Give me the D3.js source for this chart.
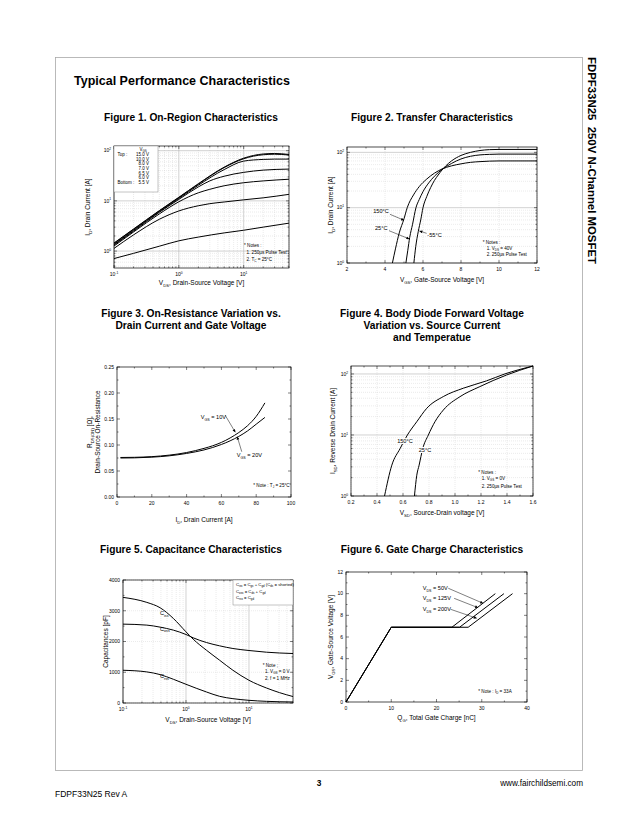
<!DOCTYPE html>
<html><head><meta charset="utf-8">
<script src="https://cdn.jsdelivr.net/npm/d3@7"></script>
<style>
html,body{margin:0;padding:0;background:#fff;}
svg{display:block;font-family:"Liberation Sans",Arial,Helvetica,sans-serif;}
</style></head><body>
<svg id="page" width="638" height="826"></svg>
<script>
// ================= DATA =================
// Figure 1 : On-Region Characteristics  [VDS (V), ID (A)]
const fig1Labels = ['15.0 V','10.0 V','8.0 V','7.0 V','6.5 V','6.0 V','5.5 V'];
const fig1_15V = [[0.1,1.45],[0.2,2.75],[0.5,6.4],[1,11.8],[2,22],[5,47],[10,71],[20,86],[30,88],[50,84]];
const fig1_10V = [[0.1,1.42],[0.2,2.7],[0.5,6.3],[1,11.6],[2,21.5],[5,46],[10,69],[20,83],[30,85],[50,82]];
const fig1_8V  = [[0.1,1.36],[0.2,2.6],[0.5,6.1],[1,11.2],[2,20.5],[5,42],[10,62],[20,67],[30,68],[50,68]];
const fig1_7V  = [[0.1,1.32],[0.2,2.5],[0.5,5.9],[1,10.7],[2,19],[3,25],[5,31],[10,37],[20,41],[50,43]];
const fig1_65V = [[0.1,1.26],[0.2,2.4],[0.5,5.5],[1,9.6],[2,14.5],[3,17],[5,20],[10,23],[20,25],[50,27]];
const fig1_6V  = [[0.1,1.13],[0.2,2.1],[0.5,4.3],[1,6.3],[2,8],[3,8.8],[5,9.5],[10,10.5],[20,11.5],[50,13.5]];
const fig1_55V = [[0.1,0.71],[0.2,0.9],[0.5,1.25],[1,1.6],[2,1.9],[5,2.3],[10,2.6],[20,3.0],[50,3.6]];
const fig1XTicks = [0.1,1,10];
const fig1XTickLabels = ['10^{-1}','10^{0}','10^{1}'];
const fig1YTicks = [1,10,100];
const fig1YTickLabels = ['10^{0}','10^{1}','10^{2}'];

// Figure 2 : Transfer Characteristics [VGS (V), ID (A)]
const fig2_150C = [[4.39,1],[4.55,1.8],[4.75,3.5],[5.0,6.3],[5.17,10],[5.5,17],[5.8,24],[6.2,33],[6.6,42],[7.0,50],[7.5,57],[8,62],[8.5,66],[9,68],[10,70],[12,70]];
const fig2_25C  = [[5.1,1],[5.2,1.7],[5.3,2.9],[5.45,5],[5.63,10],[5.8,14],[6.0,19.5],[6.3,28],[6.6,37],[7.0,49],[7.5,63],[8,76],[8.5,85],[9,90],[9.5,92],[10,93],[12,93]];
const fig2_m55C = [[5.52,1],[5.62,2],[5.75,3.7],[5.88,6],[6.0,10],[6.2,16],[6.4,23],[6.6,31],[6.8,39],[7.0,48],[7.2,57],[7.5,70],[8,88],[8.5,100],[9,108],[9.5,112],[10,113],[12,113]];
const fig2XTicks = [2,4,6,8,10,12];
const fig2YTicks = [1,10,100];
const fig2YTickLabels = ['10^{0}','10^{1}','10^{2}'];

// Figure 3 : On-Resistance [ID (A), RDS(on) (ohm)]
const fig3_10V = [[2,0.076],[10,0.0763],[20,0.0776],[30,0.0805],[40,0.0855],[50,0.0935],[55,0.0985],[60,0.105],[65,0.1135],[70,0.124],[75,0.137],[80,0.155],[85,0.181]];
const fig3_20V = [[2,0.075],[10,0.0753],[20,0.0766],[30,0.0792],[40,0.0838],[50,0.0905],[55,0.0952],[60,0.101],[65,0.108],[70,0.1165],[75,0.127],[80,0.140],[85,0.153]];
const fig3XTicks = [0,20,40,60,80,100];
const fig3YTicks = [0,0.05,0.10,0.15,0.20,0.25];

// Figure 4 : Body diode [VSD (V), ISD (A)]
const fig4_150C = [[0.458,1],[0.514,3.2],[0.578,6.0],[0.634,10],[0.706,16.5],[0.783,27.4],[0.91,42.6],[1.064,58.4],[1.242,77],[1.383,100],[1.6,135]];
const fig4_25C  = [[0.688,1],[0.706,2.19],[0.724,3.2],[0.752,6.0],[0.795,10],[0.846,16.5],[0.91,25.6],[1.038,42.4],[1.191,62],[1.396,96],[1.6,135]];
const fig4XTicks = [0.2,0.4,0.6,0.8,1.0,1.2,1.4,1.6];
const fig4YTicks = [1,10,100];
const fig4YTickLabels = ['10^{0}','10^{1}','10^{2}'];

// Figure 5 : Capacitance [VDS (V), C (pF)]
const fig5_Ciss = [[0.1,3435],[0.239,3272],[0.388,3098],[0.63,2750],[1.0,2315],[1.3,2076],[2.11,1717],[3.42,1391],[5.56,1065],[10,739],[18.9,489],[30.5,337],[50,210]];
const fig5_Coss = [[0.1,2565],[0.239,2533],[0.388,2467],[0.63,2370],[1.0,2228],[1.3,2120],[2.11,1967],[3.42,1859],[5.56,1772],[10,1707],[18.9,1652],[50,1609]];
const fig5_Crss = [[0.1,1065],[0.239,1011],[0.388,924],[0.63,772],[1.0,609],[2.11,359],[3.42,217],[5.56,141],[10,87],[18.9,54],[50,33]];
const fig5XTicks = [0.1,1,10];
const fig5XTickLabels = ['10^{-1}','10^{0}','10^{1}'];
const fig5YTicks = [0,1000,2000,3000,4000];

// Figure 6 : Gate Charge [QG (nC), VGS (V)]
const fig6_50V  = [[0,0],[10,6.9],[23.4,6.9],[33,10]];
const fig6_125V = [[0,0],[10,6.9],[25.1,6.9],[34.9,10]];
const fig6_200V = [[0,0],[10,6.9],[27,6.9],[36.8,10]];
const fig6XTicks = [0,10,20,30,40];
const fig6YTicks = [0,2,4,6,8,10,12];

// ================= DRAWING =================
const svg = d3.select('#page');
const defs = svg.append('defs');
defs.append('marker').attr('id','arr').attr('viewBox','0 0 10 10').attr('refX',10).attr('refY',5)
  .attr('markerWidth',4).attr('markerHeight',3).attr('markerUnits','userSpaceOnUse').attr('orient','auto')
  .append('path').attr('d','M0,0L10,5L0,10z').attr('fill','#000');

function rich(sel, str, fs){
  const re=/([_^])\{([^}]*)\}/g; let last=0,m,pend=0;
  const add=(t,sfs)=>{const ts=sel.append('tspan').text(t); if(pend){ts.attr('dy',pend);pend=0;} if(sfs) ts.attr('font-size',sfs); return ts;};
  while((m=re.exec(str))){
    if(m.index>last) add(str.slice(last,m.index));
    const d = m[1]==='_'? fs*0.28 : -fs*0.45;
    pend += d;
    add(m[2], fs*0.65);
    pend = -d;
    last=re.lastIndex;
  }
  if(last<str.length) add(str.slice(last));
  return sel;
}
function txt(g, x, y, str, fs, opts={}){
  const t = g.append('text').attr('x',x).attr('y',y).attr('font-size',fs).attr('fill','#000');
  if(opts.anchor) t.attr('text-anchor',opts.anchor);
  if(opts.weight) t.attr('font-weight',opts.weight);
  if(opts.rot) t.attr('transform',`rotate(${opts.rot},${x},${y})`);
  if(opts.halo) t.attr('stroke','#fff').attr('stroke-width',2.2).attr('paint-order','stroke').attr('stroke-linejoin','round');
  rich(t, str, fs);
  return t;
}
function logVals(d){
  const lo=Math.floor(Math.log10(d[0])), hi=Math.ceil(Math.log10(d[1]));
  const major=[],minor=[];
  for(let e=lo;e<=hi;e++){
    for(let k=1;k<10;k++){
      const v=k*Math.pow(10,e);
      if(v<d[0]*0.9999||v>d[1]*1.0001) continue;
      (k===1?major:minor).push(v);
    }
  }
  return {major,minor};
}

function makePlot(c){
  const g = svg.append('g');
  const x = (c.xlog?d3.scaleLog():d3.scaleLinear()).domain(c.xd).range([c.l,c.r]);
  const y = (c.ylog?d3.scaleLog():d3.scaleLinear()).domain(c.yd).range([c.b,c.t]);
  const gg = g.append('g');
  const vline=(v,maj)=>gg.append('line').attr('x1',x(v)).attr('x2',x(v)).attr('y1',c.t).attr('y2',c.b)
      .attr('stroke',maj?'#b4b4b4':'#d2d2d2').attr('stroke-width',maj?0.6:0.45).attr('stroke-dasharray',maj?null:'1,1');
  const hline=(v,maj)=>gg.append('line').attr('y1',y(v)).attr('y2',y(v)).attr('x1',c.l).attr('x2',c.r)
      .attr('stroke',maj?'#b4b4b4':'#d2d2d2').attr('stroke-width',maj?0.6:0.45).attr('stroke-dasharray',maj?null:'1,1');
  let xv, yv;
  if(c.xlog){ xv=logVals(c.xd); } else { xv={major:c.xTicks,minor:c.xTicks.slice(1).map((v,i)=>(v+c.xTicks[i])/2)}; }
  if(c.ylog){ yv=logVals(c.yd); } else { yv={major:c.yTicks,minor:c.yTicks.slice(1).map((v,i)=>(v+c.yTicks[i])/2)}; }
  if(c.gridX==='log'){ xv.minor.forEach(v=>vline(v,false)); xv.major.forEach(v=>vline(v,true)); }
  if(c.gridX==='lin'){ c.xTicks.forEach(v=>vline(v,false)); }
  if(c.gridY==='log'){ yv.minor.forEach(v=>hline(v,false)); yv.major.forEach(v=>hline(v,true)); }
  if(c.gridY==='lin'){ c.yTicks.forEach(v=>hline(v,false)); }
  // ticks (inward)
  const tk=g.append('g').attr('stroke','#000').attr('stroke-width',0.5);
  xv.major.forEach(v=>{tk.append('line').attr('x1',x(v)).attr('x2',x(v)).attr('y1',c.b).attr('y2',c.b-3);
                       tk.append('line').attr('x1',x(v)).attr('x2',x(v)).attr('y1',c.t).attr('y2',c.t+3);});
  xv.minor.forEach(v=>{tk.append('line').attr('x1',x(v)).attr('x2',x(v)).attr('y1',c.b).attr('y2',c.b-1.5);
                       tk.append('line').attr('x1',x(v)).attr('x2',x(v)).attr('y1',c.t).attr('y2',c.t+1.5);});
  yv.major.forEach(v=>{tk.append('line').attr('y1',y(v)).attr('y2',y(v)).attr('x1',c.l).attr('x2',c.l+3);
                       tk.append('line').attr('y1',y(v)).attr('y2',y(v)).attr('x1',c.r).attr('x2',c.r-3);});
  yv.minor.forEach(v=>{tk.append('line').attr('y1',y(v)).attr('y2',y(v)).attr('x1',c.l).attr('x2',c.l+1.5);
                       tk.append('line').attr('y1',y(v)).attr('y2',y(v)).attr('x1',c.r).attr('x2',c.r-1.5);});
  g.append('rect').attr('x',c.l).attr('y',c.t).attr('width',c.r-c.l).attr('height',c.b-c.t)
    .attr('fill','none').attr('stroke','#000').attr('stroke-width',0.7);
  // tick labels
  const TF=5;
  c.xTicks.forEach((v,i)=>txt(g,x(v),c.b+8,c.xTickLabels?c.xTickLabels[i]:c.xFmt(v),TF,{anchor:'middle'}));
  c.yTicks.forEach((v,i)=>txt(g,c.l-3,y(v)+1.8,c.yTickLabels?c.yTickLabels[i]:c.yFmt(v),TF,{anchor:'end'}));
  // axis labels
  const AF=6.5;
  txt(g,(c.l+c.r)/2,c.xlabY,c.xlabel,AF,{anchor:'middle'});
  c.ylabel.forEach((s,i)=>txt(g,c.ylabX[i],(c.t+c.b)/2,s,AF,{anchor:'middle',rot:-90}));
  // curves
  const line=d3.line().x(d=>x(d[0])).y(d=>y(d[1])).curve(c.curve||d3.curveMonotoneX);
  const cg=g.append('g');
  c.series.forEach(s=>cg.append('path').attr('d',line(s)).attr('fill','none').attr('stroke','#000').attr('stroke-width',1.0).attr('stroke-linejoin','round'));
  // notes
  (c.notes||[]).forEach(n=>txt(g,n[0],n[1],n[2],4.6));
  // arrows in data coordinates
  (c.arrows||[]).forEach(a=>g.append('line').attr('x1',x(a[0])).attr('y1',y(a[1])).attr('x2',x(a[2])).attr('y2',y(a[3]))
      .attr('stroke','#000').attr('stroke-width',0.5).attr('marker-end','url(#arr)'));
  (c.labels||[]).forEach(a=>txt(g,x(a[0]),y(a[1]),a[2],5.6,{anchor:a[3]||'start',halo:a[4]}));
  return {g,x,y};
}

// ---------- Page frame & titles ----------
svg.append('rect').attr('x',55.5).attr('y',57.5).attr('width',527).attr('height',713)
  .attr('fill','none').attr('stroke','#a8a8a8').attr('stroke-width',0.8);
txt(svg,74,85,'Typical Performance Characteristics',12.5,{weight:'bold'});
txt(svg,588,57,'FDPF33N25\u00a0\u00a0250V N-Channel MOSFET',11.4,{weight:'bold',rot:90});

const TT=10.2;
txt(svg,191,121,'Figure 1. On-Region Characteristics',TT,{weight:'bold',anchor:'middle'});
txt(svg,432,121,'Figure 2. Transfer Characteristics',TT,{weight:'bold',anchor:'middle'});
txt(svg,191,317,'Figure 3. On-Resistance Variation vs.',TT,{weight:'bold',anchor:'middle'});
txt(svg,191,329,'Drain Current and Gate Voltage',TT,{weight:'bold',anchor:'middle'});
txt(svg,432,317,'Figure 4. Body Diode Forward Voltage',TT,{weight:'bold',anchor:'middle'});
txt(svg,432,329,'Variation vs. Source Current',TT,{weight:'bold',anchor:'middle'});
txt(svg,432,341,'and Temperatue',TT,{weight:'bold',anchor:'middle'});
txt(svg,191,553,'Figure 5. Capacitance Characteristics',TT,{weight:'bold',anchor:'middle'});
txt(svg,432,553,'Figure 6. Gate Charge Characteristics',TT,{weight:'bold',anchor:'middle'});

// footer
txt(svg,319,786,'3',8.3,{weight:'bold',anchor:'middle'});
txt(svg,583,786,'www.fairchildsemi.com',8.2,{anchor:'end'});
txt(svg,55,797,'FDPF33N25 Rev A',8.5);

// ---------- Figure 1 ----------
const f1 = makePlot({l:114,r:289,t:146,b:268,xlog:true,ylog:true,xd:[0.1,50],yd:[0.46,124],
  gridX:'log',gridY:'log',
  xTicks:fig1XTicks,xTickLabels:fig1XTickLabels,yTicks:fig1YTicks,yTickLabels:fig1YTickLabels,
  xlabel:'V_{DS}, Drain-Source Voltage [V]',xlabY:285,ylabel:['I_{D}, Drain Current [A]'],ylabX:[90],
  series:[fig1_15V,fig1_10V,fig1_8V,fig1_7V,fig1_65V,fig1_6V,fig1_55V],
  notes:[[244,246.5,'* Notes :'],[246.5,253.5,'1. 250\u00b5s Pulse Test'],[246.5,260.5,'2. T_{C} = 25\u00b0C']]
});
// legend box
const lg1=f1.g.append('g');
lg1.append('rect').attr('x',114).attr('y',146).attr('width',44).attr('height',46).attr('fill','#fff').attr('stroke','#888').attr('stroke-width',0.5);
txt(lg1,143,150.5,'V_{GS}',4.5,{anchor:'middle'});
fig1Labels.forEach((s,i)=>txt(lg1,149,155.8+i*4.7,s,4.5,{anchor:'end'}));
txt(lg1,117.5,155.8,'Top :',4.5);
txt(lg1,117.5,155.8+6*4.7,'Bottom :',4.5);

// ---------- Figure 2 ----------
makePlot({l:347,r:537,t:147,b:263,xlog:false,ylog:true,xd:[2,12],yd:[1,125],
  gridX:'lin',gridY:'log',
  xTicks:fig2XTicks,xFmt:d3.format('d'),yTicks:fig2YTicks,yTickLabels:fig2YTickLabels,
  xlabel:'V_{GS}, Gate-Source Voltage [V]',xlabY:282,ylabel:['I_{D}, Drain Current [A]'],ylabX:[333],
  series:[fig2_150C,fig2_25C,fig2_m55C],
  notes:[[482.7,243.8,'* Notes :'],[486.7,249.8,'1. V_{DS} = 40V'],[486.7,255.5,'2. 250\u00b5s Pulse Test']],
  arrows:[[4.26,7.6,5.0,5.92],[4.21,3.84,5.28,2.72],[6.19,3.44,5.81,3.79]],
  labels:[[3.38,7.85,'150\u00b0C'],[3.47,3.95,'25\u00b0C'],[6.23,3.01,'-55\u00b0C']]
});

// ---------- Figure 3 ----------
makePlot({l:117,r:291,t:367,b:497,xd:[0,100],yd:[0,0.25],
  xTicks:fig3XTicks,xFmt:d3.format('d'),yTicks:fig3YTicks,yFmt:d3.format('.2f'),
  xlabel:'I_{D}, Drain Current [A]',xlabY:522,
  ylabel:['R_{DS(ON)} [\u03a9],','Drain-Source On-Resistance'],ylabX:[92,100],
  series:[fig3_10V,fig3_20V],
  notes:[[253.3,486.5,'* Note : T_{J} = 25\u00b0C']],
  arrows:[[62.1,0.1577,68.0,0.1244],[71.7,0.0871,69.1,0.116]],
  labels:[[48.1,0.150,'V_{GS} = 10V'],[68.8,0.0769,'V_{GS} = 20V']]
});

// ---------- Figure 4 ----------
makePlot({l:351,r:533,t:366,b:496,ylog:true,xd:[0.2,1.6],yd:[1,135],
  gridX:'lin',gridY:'log',
  xTicks:fig4XTicks,xFmt:d3.format('.1f'),yTicks:fig4YTicks,yTickLabels:fig4YTickLabels,
  xlabel:'V_{SD}, Source-Drain voltage [V]',xlabY:515,ylabel:['I_{SD}, Reverse Drain Current [A]'],ylabX:[335],
  series:[fig4_150C,fig4_25C],
  notes:[[478.3,474,'* Notes :'],[481.7,480,'1. V_{GS} = 0V'],[481.7,487.5,'2. 250\u00b5s Pulse Test']],
  labels:[[0.615,7.4,'150\u00b0C','middle',true],[0.769,5.27,'25\u00b0C','middle',true]]
});

// ---------- Figure 5 ----------
const f5 = makePlot({l:123,r:293,t:580,b:703,xlog:true,xd:[0.1,50],yd:[0,4000],
  gridX:'log',gridY:'lin',
  xTicks:fig5XTicks,xTickLabels:fig5XTickLabels,yTicks:fig5YTicks,yFmt:d3.format('d'),
  xlabel:'V_{DS}, Drain-Source Voltage [V]',xlabY:722,ylabel:['Capacitances [pF]'],ylabX:[108],
  series:[fig5_Ciss,fig5_Coss,fig5_Crss],
  notes:[[262.7,666.5,'* Note ;'],[265,673,'1. V_{GS} = 0 V'],[265,680,'2. f = 1 MHz']],
  labels:[[0.387,2862,'C_{iss}'],[0.387,2351,'C_{oss}'],[0.387,813,'C_{rss}']]
});
const lg5=f5.g.append('g');
lg5.append('rect').attr('x',233).attr('y',580).attr('width',60).attr('height',25).attr('fill','#fff').attr('stroke','#888').attr('stroke-width',0.5);
txt(lg5,236,586,'C_{iss} = C_{gs} + C_{gd} (C_{ds} = shorted)',4.3);
txt(lg5,236,592.5,'C_{oss} = C_{ds} + C_{gd}',4.3);
txt(lg5,236,599,'C_{rss} = C_{gd}',4.3);

// ---------- Figure 6 ----------
makePlot({l:346,r:527,t:572,b:702,xd:[0,40],yd:[0,12],
  xTicks:fig6XTicks,xFmt:d3.format('d'),yTicks:fig6YTicks,yFmt:d3.format('d'),
  xlabel:'Q_{G}, Total Gate Charge [nC]',xlabY:720,ylabel:['V_{GS}, Gate-Source Voltage [V]'],ylabX:[333],
  series:[fig6_50V,fig6_125V,fig6_200V],curve:d3.curveLinear,
  notes:[[478.3,693,'* Note : I_{D} = 33A']],
  arrows:[[22.6,10.5,30.3,9.11],[23.9,9.57,29.2,8.7],[23.1,8.56,28.9,7.73]],
  labels:[[16.95,10.34,'V_{DS} = 50V'],[16.95,9.42,'V_{DS} = 125V'],[16.95,8.4,'V_{DS} = 200V']]
});
</script>
</body></html>
